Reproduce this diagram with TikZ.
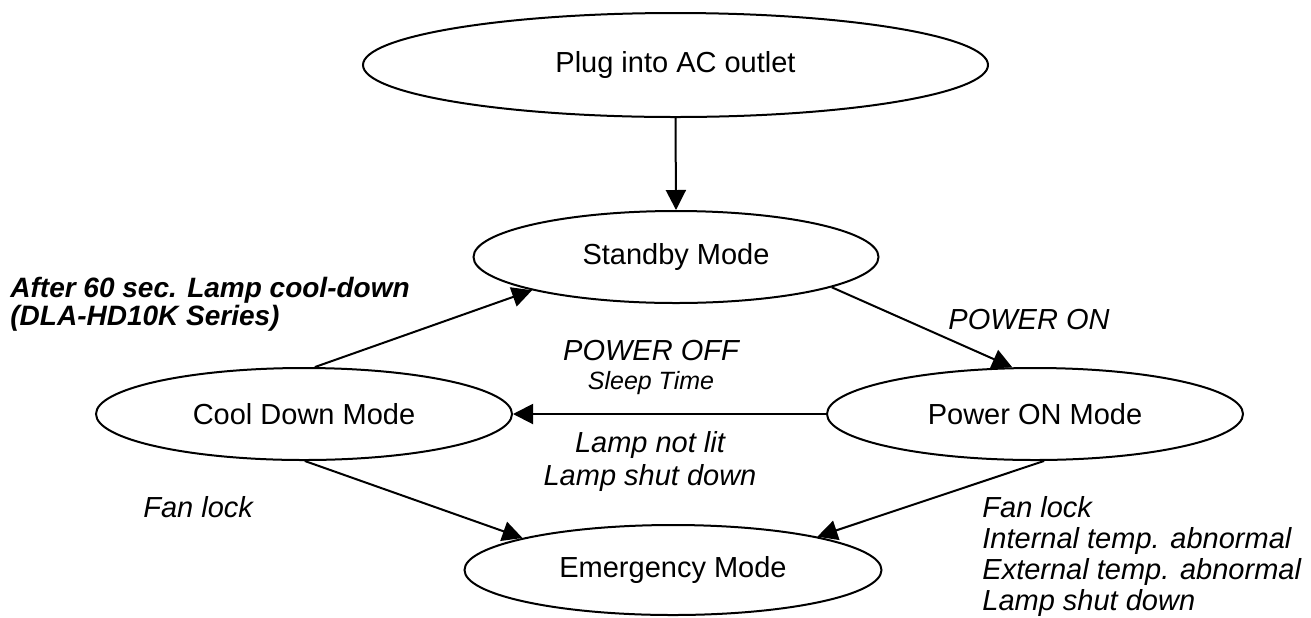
\documentclass[tikz,border=0pt]{standalone}
\usepackage{fontspec}
\setmainfont{Liberation Sans}
\usetikzlibrary{arrows.meta,shapes.geometric}
\begin{document}
\begin{tikzpicture}[x=0.5pt,y=-0.5pt,
  state/.style={ellipse,draw,line width=1pt,inner sep=0pt,font=\fontsize{14.5}{17}\selectfont},
  conn/.style={line width=1pt,-{Triangle[length=10pt,width=10pt]}},
  lbl/.style={inner sep=0pt,font=\fontsize{14.5}{17}\selectfont\itshape},
]
\useasboundingbox (0,0) rectangle (1311,617);
\node[state,minimum width=312.5pt,minimum height=52pt] (plug) at (675.5,65) {Plug into AC outlet};
\node[state,minimum width=202.5pt,minimum height=46pt] (standby) at (676,257) {Standby Mode};
\node[state,minimum width=208pt,minimum height=46pt] (poweron) at (1035,414) {Power ON Mode};
\node[state,minimum width=208pt,minimum height=46pt] (cooldown) at (304,414) {Cool Down Mode};
\node[state,minimum width=208.5pt,minimum height=45pt] (emergency) at (673,570) {Emergency Mode};

\draw[conn] (plug.south) -- (standby.north);
\draw[conn] (standby.-11) -- (poweron.116);
\draw[conn] (poweron.west) -- (cooldown.east);
\draw[conn] (cooldown.77) -- (standby.193);
\draw[conn] (cooldown.-89) -- (emergency.168);
\draw[conn] (poweron.-79) -- (emergency.13);

\node[lbl,font=\fontsize{14}{14}\selectfont\bfseries\itshape,align=left,anchor=west] (after) at (10,304) {After 60 sec. Lamp cool-down\\(DLA-HD10K Series)};
\node[lbl,anchor=base] (pon) at (1029,329) {POWER ON};
\node[lbl,font=\fontsize{14.5}{14.5}\selectfont\itshape,align=center] (poff) at (651,367.5) {POWER OFF\\{\fontsize{12.5}{14}\selectfont Sleep Time}};
\node[lbl,font=\fontsize{14.5}{16.5}\selectfont\itshape,align=center] (lamp) at (650,461) {Lamp not lit\\Lamp shut down};
\node[lbl,anchor=base west] (fan1) at (143,517) {Fan lock};
\node[lbl,font=\fontsize{14.5}{15.5}\selectfont\itshape,align=left,anchor=west] (fan2) at (982,556) {Fan lock\\Internal temp. abnormal\\External temp. abnormal\\Lamp shut down};
\end{tikzpicture}
\end{document}
